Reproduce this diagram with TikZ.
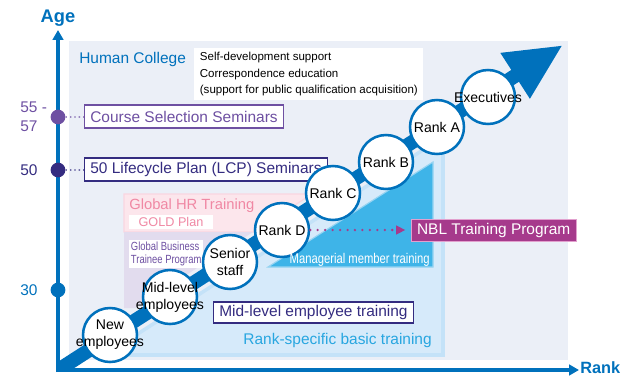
\documentclass[tikz,border=0pt]{standalone}
\usepackage{fontspec}
\setmainfont{Liberation Sans}
\newfontfamily\narrowfont[FakeStretch=0.8]{Liberation Sans}
\usepackage{tikz}
\usetikzlibrary{arrows.meta,positioning,calc}

\definecolor{axisblue}{RGB}{0,113,188}
\definecolor{panel}{RGB}{235,239,247}
\definecolor{rsfill}{RGB}{214,234,250}
\definecolor{rsline}{RGB}{196,226,248}
\definecolor{rstext}{RGB}{40,166,224}
\definecolor{mgfill}{RGB}{62,180,232}
\definecolor{mgline}{RGB}{150,212,242}
\definecolor{pinkfill}{RGB}{252,230,236}
\definecolor{pinkline}{RGB}{250,214,224}
\definecolor{pinktext}{RGB}{240,136,164}
\definecolor{lilacfill}{RGB}{226,220,238}
\definecolor{lilac}{RGB}{110,80,162}
\definecolor{lcpblue}{RGB}{52,44,128}
\definecolor{nbl}{RGB}{166,58,140}
\definecolor{nblline}{RGB}{226,160,206}

\begin{document}
\begin{tikzpicture}[x=0.025cm,y=-0.025cm,
  stagetxt/.style={align=center,inner sep=0pt,font=\fontsize{10}{12}\selectfont},
  stage/.style={circle,draw=axisblue,line width=1.8pt,fill=white,minimum size=38.4pt,inner sep=0pt,
    label={[stagetxt]center:{#1}}},
  seminar/.style={draw,fill=white,line width=1pt,anchor=west,minimum height=16.4pt,inner xsep=4pt,inner ysep=0pt,font=\fontsize{11}{13}\selectfont},
  agedot/.style={circle,minimum size=10.5pt,inner sep=0pt},
  age/.style={anchor=west,align=left,inner sep=0pt,font=\fontsize{11}{13.5}\selectfont},
  link/.style={line width=0.9pt,dash pattern=on 0.9pt off 2.2pt},
  axis/.style={axisblue,line width=2.8pt,-{Triangle[length=7pt,width=7.5pt]}}]
  \useasboundingbox (0,0) rectangle (627,376);
  \fill[panel] (69,41) rectangle (568,360);

  % training areas
  \filldraw[fill=pinkfill,draw=pinkline,line width=0.8pt] (124,194) -- (312,194) -- (253,232) -- (124,232) -- cycle;
  \fill[lilacfill] (124,232) -- (253,232) -- (135,308) -- (124,308) -- cycle;
  \filldraw[fill=rsfill,draw=rsline,line width=2.5pt] (105,355) -- (443,137) -- (443,355) -- cycle;
  \filldraw[fill=mgfill,draw=mgline,line width=0.8pt] (268,267) -- (433,162) -- (433,267) -- cycle;

  % career arrow
  \coordinate (start) at (52,374);
  \coordinate (tip) at (563,45);
  \begin{scope}
    \clip (58,0) rectangle (627,370);
    \draw[axisblue,line width=10pt,-{Triangle[length=40.5pt,width=35.6pt]}] (start) -- (tip);
  \end{scope}

  % axes
  \coordinate (origin) at (58,370);
  \coordinate (ytop) at (58,30);
  \coordinate (xend) at (579,370);
  \draw[axis] (58,372) -- (ytop);
  \draw[axis] (56,370) -- (xend);
  \node[axisblue,font=\bfseries\fontsize{13}{15}\selectfont] (agelbl) at (58,18) {Age};
  \node[axisblue,anchor=west,inner sep=0pt,font=\bfseries\fontsize{11.6}{14}\selectfont] (ranklbl) at (580,367.5) {Rank};

  % ages
  \node[agedot,fill=lilac] (d1) at (58,117) {};
  \node[agedot,fill=lcpblue] (d2) at (58,170) {};
  \node[agedot,fill=axisblue] (d3) at (58,290) {};
  \node[age,text=lilac] (t1) at (20,117) {55 -\\57};
  \node[age,text=lcpblue] (t2) at (20,170) {50};
  \node[age,text=axisblue] (t3) at (20,290) {30};

  \node[seminar,draw=lilac,text=lilac] (course) at (84,116.5) {Course Selection Seminars};
  \node[seminar,draw=lcpblue,text=lcpblue] (lcp) at (84,169.5) {50 Lifecycle Plan (LCP) Seminars};
  \draw[link,lilac] (d1) -- (course);
  \draw[link,lcpblue] (d2) -- (lcp);

  % self-development
  \node[axisblue,anchor=west,inner sep=0pt,font=\fontsize{11}{13}\selectfont] (hc) at (79,59) {Human College};
  \node[fill=white,anchor=north west,align=left,inner xsep=4pt,inner ysep=3pt,font=\fontsize{8.2}{11.7}\selectfont] (self) at (194,48)
    {Self-development support\\Correspondence education\\(support for public qualification acquisition)};

  % global programs
  \node[pinktext,anchor=west,inner sep=0pt,font=\fontsize{10.5}{12}\selectfont] (ghr) at (129,206) {Global HR Training};
  \node[fill=white,text=pinktext,minimum width=60pt,minimum height=10pt,inner sep=0pt,font=\fontsize{9}{10}\selectfont] (gold) at (171,222) {GOLD Plan};
  \node[fill=white,text=lilac,anchor=north west,align=left,inner sep=1.2pt,font=\narrowfont\fontsize{8.4}{9.4}\selectfont] (gbt) at (129,240) {Global Business\\Trainee Program};

  % ranks
  \node[stage={New\\employees}] (s1) at (110,335) {};
  \node[stage={Mid-level\\employees}] (s2) at (170,297) {};
  \node[stage={Senior\\staff}] (s3) at (230,262) {};
  \node[stage={Rank D}] (s4) at (282,230) {};
  \node[stage={Rank C}] (s5) at (333,193) {};
  \node[stage={Rank B}] (s6) at (386,162) {};
  \node[stage={Rank A}] (s7) at (437,127) {};
  \node[stage={Executives}] (s8) at (488,97) {};

  % basic training
  \node[white,anchor=east,inner sep=0pt,font=\narrowfont\fontsize{10}{12}\selectfont] (mgr) at (430,260) {Managerial member training};
  \node[seminar,draw=lcpblue,text=lcpblue,minimum height=15pt] (midtr) at (213,312.5) {Mid-level employee training};
  \node[rstext,anchor=east,inner sep=0pt,font=\fontsize{11}{13}\selectfont] (rsb) at (432,340) {Rank-specific basic training};

  \node[seminar,fill=nbl,draw=nblline,line width=0.6pt,text=white,minimum height=15.6pt] (nblp) at (411,230) {NBL Training Program};
  \draw[nbl,line width=1.8pt,line cap=round,dash pattern=on 0pt off 5.3pt,shorten >=4pt,-{Triangle[length=6.5pt,width=6pt]}] (s4) -- (nblp);
\end{tikzpicture}
\end{document}
